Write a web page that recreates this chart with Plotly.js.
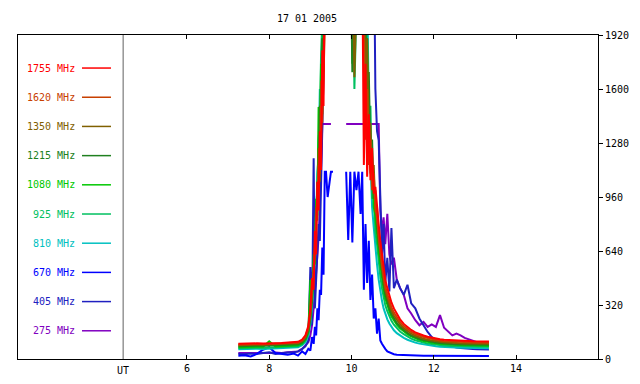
<!DOCTYPE html>
<html>
<head>
<meta charset="utf-8">
<script src="https://cdn.plot.ly/plotly-3.0.1.min.js"></script>
<style>html,body{margin:0;padding:0;background:#fff;}#chart{width:640px;height:384px;}</style>
</head>
<body>
<div id="chart"></div>
<script>
// Time (UT hours)
const ut = [7.25,7.4,7.55,7.7,7.85,8.0,8.15,8.3,8.45,8.6,8.7,
  8.8,8.88,8.95,9.0,9.04,9.08,9.11,9.14,9.17,9.2,9.23,9.26,9.29,9.32,9.35,9.38,9.42,
  9.5,9.55,9.7,9.87,9.92,9.97,10.02,10.07,10.12,10.17,10.22,10.26,
  10.3,10.34,10.38,10.42,10.46,10.5,10.54,10.58,10.62,10.66,10.7,10.74,10.78,10.82,10.87,10.92,10.97,
  11.03,11.1,11.18,11.27,11.36,11.45,11.55,11.65,11.75,11.85,11.95,
  12.05,12.15,12.25,12.35,12.45,12.55,12.65,12.75,12.85,12.95,
  13.05,13.15,13.25,13.34];

const f1755 = [90,92,91,93,92,95,94,95,96,98,102,
  115,140,195,300,480,410,760,620,1050,880,1350,1120,1830,1500,2400,2600,2600,
  2600,2600,2600,2600,2600,2600,2600,2600,2600,2600,2600,2400,
  1150,1750,1080,1450,1060,1250,980,1020,880,800,700,610,540,470,420,370,335,
  300,265,235,208,188,172,158,147,139,132,126,
  121,117,114,112,110,108,107,106,106,105,
  105,104,104,104];
const f1620 = [86,88,87,89,88,90,90,91,92,94,98,
  110,135,185,280,420,520,650,820,900,1150,1100,1500,1400,2000,2600,2600,2600,
  2600,2600,2600,2600,2600,2600,2600,2600,2600,2600,2600,2600,
  1900,1300,1600,1150,1300,1000,1100,900,830,720,640,560,490,430,385,340,305,
  275,245,218,195,176,160,148,138,130,124,118,
  114,110,107,105,103,101,100,99,99,98,
  98,97,97,97];
const f1350 = [82,84,83,85,84,86,86,87,88,90,94,
  105,128,175,260,380,560,600,900,820,1250,1050,1650,1450,2200,2600,2600,2600,
  2600,2600,2600,2600,2600,2600,2600,1670,2600,2600,2600,2600,
  2600,1500,1900,1250,1400,1050,1150,870,900,700,640,540,470,410,365,322,288,
  258,230,205,183,165,150,138,128,120,114,109,
  105,102,99,97,95,94,93,92,92,91,
  91,90,90,90];
const f1215 = [76,78,77,79,78,80,80,81,82,84,88,
  98,120,165,240,360,500,700,780,1050,1000,1500,1300,1900,1700,2600,2600,2600,
  2600,2600,2600,2600,2600,2600,1700,2600,2600,2600,2600,2600,
  2600,2000,1400,1700,1200,1300,950,1000,780,690,600,510,440,385,340,300,268,
  240,214,191,171,154,140,129,120,112,106,101,
  98,95,92,90,89,88,87,86,86,85,
  85,84,84,84];
const f1080 = [70,72,71,73,72,105,74,75,76,78,82,
  92,115,160,470,330,620,560,950,850,1493,1200,1750,1600,2300,2600,2600,2600,
  2600,2600,2600,2600,2600,2600,1750,2600,2600,2600,2600,2600,
  2600,1600,1900,1300,1100,1200,900,850,720,640,560,480,415,362,320,283,253,
  227,203,182,163,147,134,123,114,107,101,97,
  93,90,88,86,84,83,82,81,81,80,
  80,79,79,79];
const f925 = [64,66,65,67,66,68,68,69,70,72,76,
  88,108,150,230,340,480,640,900,1000,1300,1400,1800,2000,2600,2600,2600,2600,
  2600,2600,2600,2600,2600,2600,2600,1600,2600,2600,2600,2600,
  2600,2600,1700,1180,1500,950,1000,750,680,560,490,420,365,320,283,252,226,
  203,182,163,147,133,121,111,103,97,92,88,
  85,82,80,78,77,76,75,74,74,73,
  73,72,72,72];
const f810 = [58,60,59,61,60,62,62,63,64,66,70,
  82,100,140,210,310,450,600,820,1100,1200,1600,1500,2200,2600,2600,2600,2600,
  2600,2600,2600,2600,2600,2600,2600,2600,2600,2600,2600,2600,
  2600,2600,2200,1500,1200,900,780,650,560,470,400,345,300,265,235,210,188,
  170,153,138,125,114,105,97,91,86,82,78,
  75,73,71,69,68,67,66,66,65,65,
  64,64,64,64];
const f670 = [20,22,15,30,55,70,35,28,25,32,20,
  45,30,60,50,130,90,190,140,300,230,410,380,660,500,1110,1110,960,
  1110,1110,null,1110,705,1110,690,1110,1000,1110,860,1110,
  410,800,450,700,350,500,240,300,150,240,110,90,70,60,45,40,32,
  28,25,24,22,21,21,20,20,20,20,20,
  20,19,19,19,19,19,19,18,18,18,
  18,18,18,18];
const f405 = [30,28,32,30,35,40,30,35,38,40,45,
  60,75,110,545,200,1190,300,450,600,800,700,1100,1300,1700,2600,2600,2600,
  2600,2600,2600,2600,2600,2600,2600,2600,2600,2600,2600,2600,
  2600,2600,2600,2600,2600,2600,2600,1600,1350,1297,900,620,800,450,600,400,776,
  420,470,420,380,440,330,300,240,200,160,130,
  110,95,85,78,72,68,65,62,60,59,
  58,57,56,56];
const f275 = [35,35,33,36,35,35,38,36,40,42,45,
  60,80,100,140,200,300,400,500,620,723,900,1100,1393,1393,1393,1393,1393,
  1393,null,null,1393,1393,1393,1393,1393,1393,1393,1393,1393,
  1393,1393,1393,1393,1393,1393,1393,1393,1393,1393,880,760,840,680,860,620,560,
  600,470,420,380,300,270,230,200,220,190,205,
  190,260,185,160,140,150,140,125,118,110,
  100,100,98,98];

const labels = ['1755 MHz','1620 MHz','1350 MHz','1215 MHz','1080 MHz','925 MHz','810 MHz','670 MHz','405 MHz','275 MHz'];
const colors = ['#ff0000','#c84000','#806000','#208020','#00c800','#00c060','#00c0c0','#0000ff','#2020c0','#8000c0'];
const series = [f1755,f1620,f1350,f1215,f1080,f925,f810,f670,f405,f275];
const xTicks = [6,8,10,12,14];
const yTicks = [0,320,640,960,1280,1600,1920];

const FONT = 'DejaVu Sans Mono, monospace';
const traces = [];
for (let i = series.length - 1; i >= 0; i--) {
  traces.push({x: ut, y: series[i], type: 'scatter', mode: 'lines', connectgaps: false,
    line: {color: colors[i], width: 2}, hoverinfo: 'skip', showlegend: false});
}

const annotations = [];
const shapes = [];
labels.forEach((t, i) => {
  const yp = 0.898 - i * 0.0901;
  annotations.push({xref: 'paper', yref: 'paper', x: 0.1017, y: yp, xanchor: 'right', yanchor: 'middle',
    text: t, showarrow: false, font: {family: FONT, size: 10, color: colors[i]}});
  shapes.push({type: 'line', xref: 'paper', yref: 'paper', x0: 0.1103, x1: 0.1603, y0: yp, y1: yp,
    line: {color: colors[i], width: 1.5}});
});
shapes.push({type: 'line', xref: 'x', yref: 'paper', x0: 4.45, x1: 4.45, y0: 0, y1: 1,
  line: {color: '#606060', width: 1}});
annotations.push({xref: 'x', yref: 'paper', x: 4.45, y: -0.034, xanchor: 'center', yanchor: 'middle',
  text: 'UT', showarrow: false, font: {family: FONT, size: 10, color: '#000'}});

const layout = {
  width: 640, height: 384,
  margin: {l: 18, r: 42, t: 35, b: 25},
  paper_bgcolor: '#fff', plot_bgcolor: '#fff',
  title: {text: '17 01 2005', x: 307/640, xanchor: 'center', y: 1 - 18/384, yanchor: 'middle',
    font: {family: FONT, size: 10, color: '#000'}},
  xaxis: {range: [1.895, 15.99], tickvals: xTicks, ticktext: xTicks.map(String), ticks: 'inside', ticklen: 4,
    tickcolor: '#000', showline: true, linecolor: '#000', linewidth: 1, mirror: 'ticks',
    showgrid: false, zeroline: false, tickfont: {family: FONT, size: 10, color: '#000'}},
  yaxis: {range: [0, 1920], side: 'right', tickvals: yTicks, ticktext: yTicks.map(String), ticks: 'outside', ticklen: 4,
    tickcolor: '#000', showline: true, linecolor: '#000', linewidth: 1, mirror: true,
    showgrid: false, zeroline: false, tickfont: {family: FONT, size: 10, color: '#000'}},
  annotations: annotations,
  shapes: shapes
};

Plotly.newPlot('chart', traces, layout, {staticPlot: true, displayModeBar: false});
</script>
</body>
</html>
